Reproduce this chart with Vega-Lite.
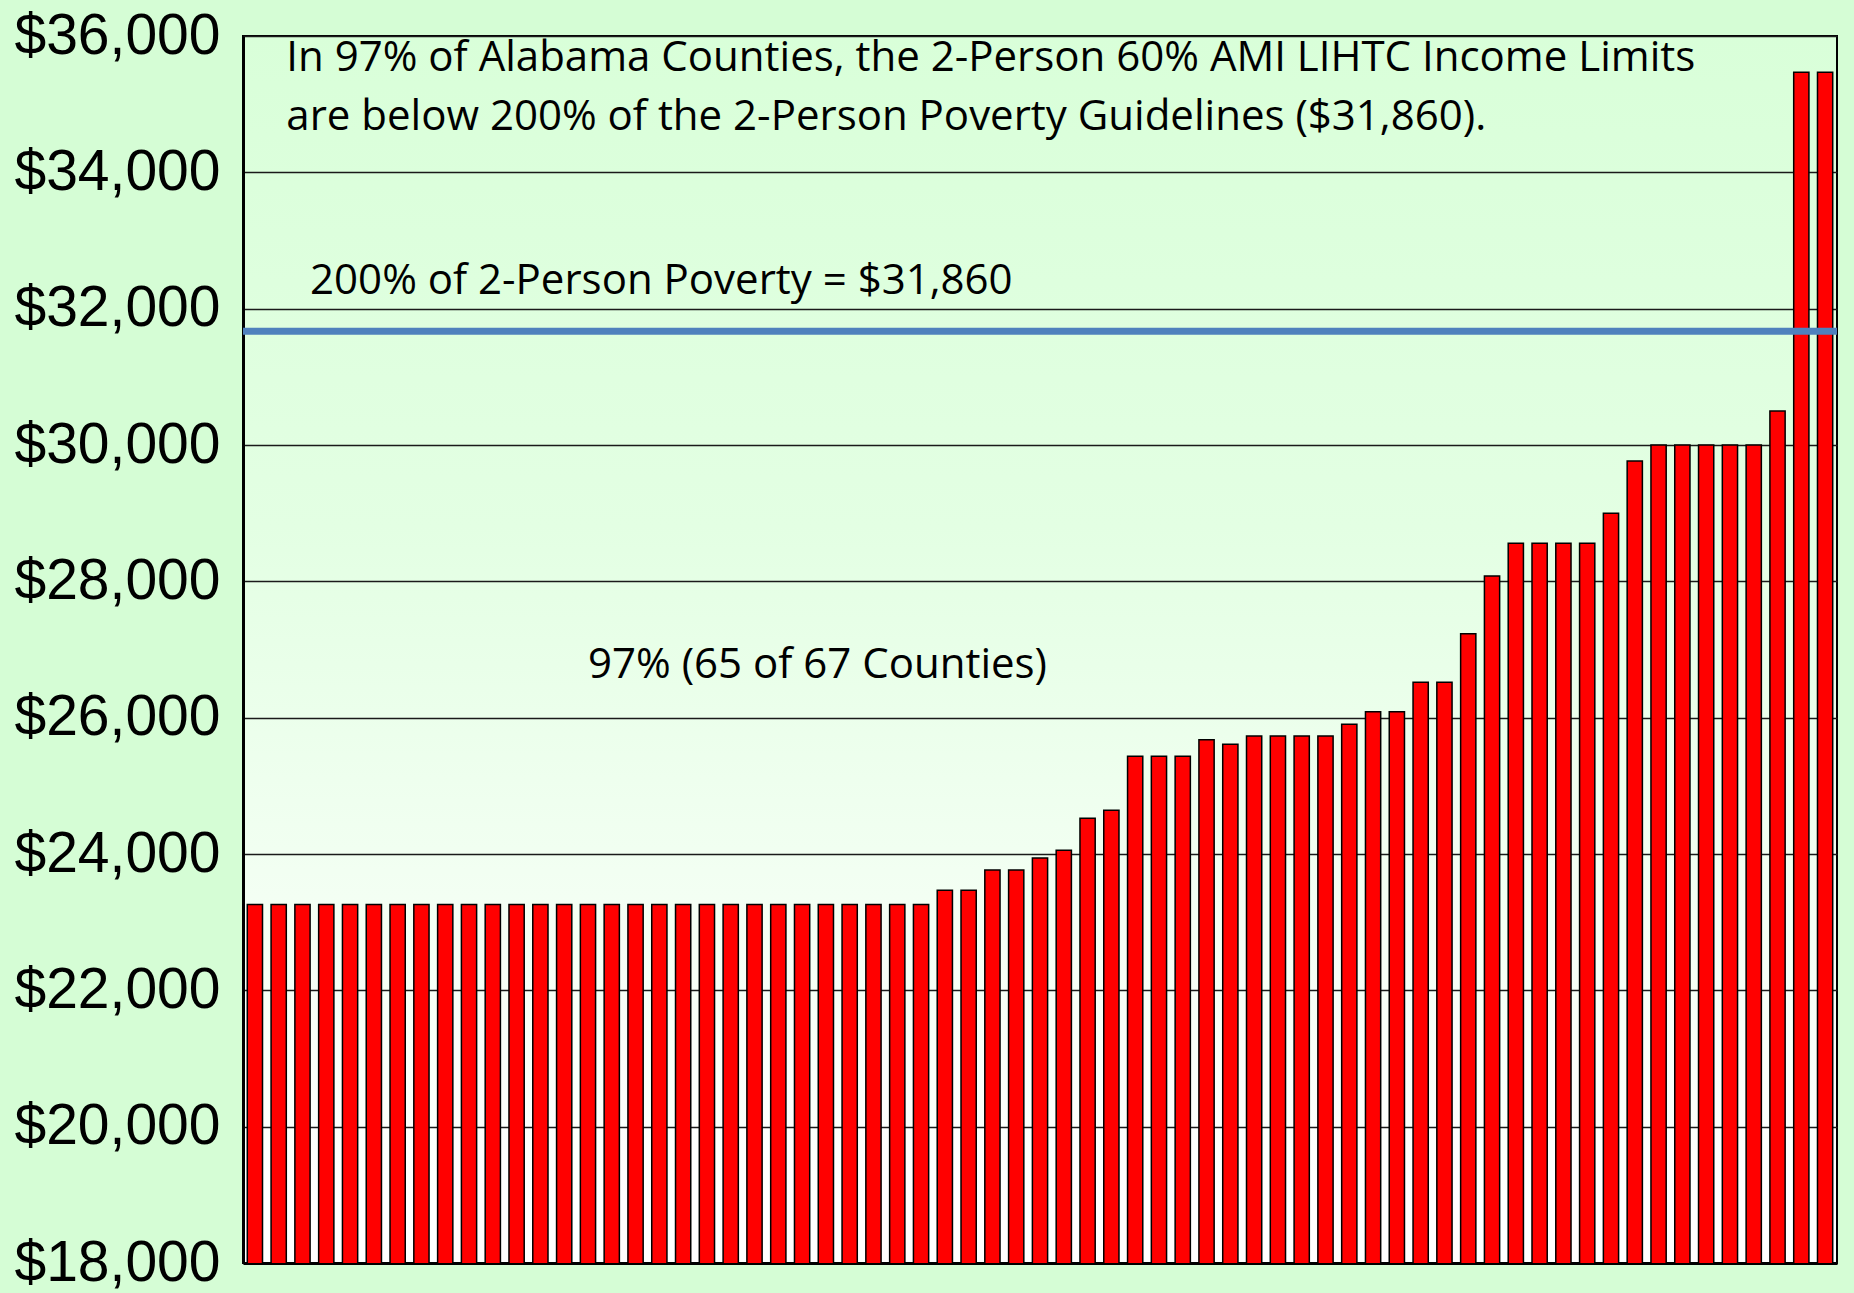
{
  "$schema": "https://vega.github.io/schema/vega-lite/v6.json",
  "autosize": {"type": "none"},
  "padding": {"left": 243, "top": 36, "right": 17, "bottom": 30},
  "width": 1594,
  "height": 1227,
  "background": "#d5fdd5",
  "config": {
    "view": {
      "fill": {"gradient": "linear", "x1": 0, "y1": 0, "x2": 0, "y2": 1,
        "stops": [
          {"offset": 0, "color": "#d9ffd9"},
          {"offset": 0.4, "color": "#e3ffe3"},
          {"offset": 0.68, "color": "#f2fff2"},
          {"offset": 0.95, "color": "#ffffff"},
          {"offset": 1, "color": "#ffffff"}
        ]},
      "stroke": "#000000",
      "strokeWidth": 2
    }
  },
  "data": {"values": [
    {"rank": 1, "limit": 23260}, {"rank": 2, "limit": 23260}, {"rank": 3, "limit": 23260}, {"rank": 4, "limit": 23260},
    {"rank": 5, "limit": 23260}, {"rank": 6, "limit": 23260}, {"rank": 7, "limit": 23260}, {"rank": 8, "limit": 23260},
    {"rank": 9, "limit": 23260}, {"rank": 10, "limit": 23260}, {"rank": 11, "limit": 23260}, {"rank": 12, "limit": 23260},
    {"rank": 13, "limit": 23260}, {"rank": 14, "limit": 23260}, {"rank": 15, "limit": 23260}, {"rank": 16, "limit": 23260},
    {"rank": 17, "limit": 23260}, {"rank": 18, "limit": 23260}, {"rank": 19, "limit": 23260}, {"rank": 20, "limit": 23260},
    {"rank": 21, "limit": 23260}, {"rank": 22, "limit": 23260}, {"rank": 23, "limit": 23260}, {"rank": 24, "limit": 23260},
    {"rank": 25, "limit": 23260}, {"rank": 26, "limit": 23260}, {"rank": 27, "limit": 23260}, {"rank": 28, "limit": 23260},
    {"rank": 29, "limit": 23260}, {"rank": 30, "limit": 23470}, {"rank": 31, "limit": 23470}, {"rank": 32, "limit": 23765},
    {"rank": 33, "limit": 23765}, {"rank": 34, "limit": 23940}, {"rank": 35, "limit": 24055}, {"rank": 36, "limit": 24525},
    {"rank": 37, "limit": 24640}, {"rank": 38, "limit": 25435}, {"rank": 39, "limit": 25435}, {"rank": 40, "limit": 25435},
    {"rank": 41, "limit": 25675}, {"rank": 42, "limit": 25610}, {"rank": 43, "limit": 25730}, {"rank": 44, "limit": 25730},
    {"rank": 45, "limit": 25730}, {"rank": 46, "limit": 25730}, {"rank": 47, "limit": 25905}, {"rank": 48, "limit": 26085},
    {"rank": 49, "limit": 26085}, {"rank": 50, "limit": 26520}, {"rank": 51, "limit": 26520}, {"rank": 52, "limit": 27230},
    {"rank": 53, "limit": 28080}, {"rank": 54, "limit": 28560}, {"rank": 55, "limit": 28560}, {"rank": 56, "limit": 28560},
    {"rank": 57, "limit": 28560}, {"rank": 58, "limit": 29000}, {"rank": 59, "limit": 29765}, {"rank": 60, "limit": 30000},
    {"rank": 61, "limit": 30000}, {"rank": 62, "limit": 30000}, {"rank": 63, "limit": 30000}, {"rank": 64, "limit": 30000},
    {"rank": 65, "limit": 30500}, {"rank": 66, "limit": 35470}, {"rank": 67, "limit": 35470}
  ]},
  "layer": [
    {
      "mark": {"type": "bar", "color": "#ff0000", "stroke": "#000000", "strokeWidth": 1.5, "clip": true},
      "encoding": {
        "x": {"field": "rank", "type": "ordinal",
          "scale": {"paddingInner": 0.36, "paddingOuter": 0.18},
          "axis": {"labels": false, "ticks": false, "title": null, "domainColor": "#000000", "domainWidth": 3}},
        "y": {"field": "limit", "type": "quantitative",
          "scale": {"domain": [18000, 36000], "zero": false, "nice": false},
          "axis": {"values": [18000, 20000, 22000, 24000, 26000, 28000, 30000, 32000, 34000, 36000],
            "format": "$,.0f", "title": null, "ticks": false, "labelPadding": 23,
            "labelFont": "Liberation Sans", "labelFontSize": 57, "labelColor": "#000000",
            "labelOverlap": false, "labelLimit": 0,
            "grid": true, "gridColor": "#1a1a1a", "gridWidth": 1.6, "gridOpacity": 1,
            "domainColor": "#000000", "domainWidth": 3}}
      }
    },
    {
      "data": {"values": [{"threshold": 31670}]},
      "mark": {"type": "rule", "color": "#4f81bd", "strokeWidth": 7},
      "encoding": {"y": {"field": "threshold", "type": "quantitative"}}
    },
    {
      "data": {"values": [
        {"rank": 2, "limit": 35487, "label": "In 97% of Alabama Counties, the 2-Person 60% AMI LIHTC Income Limits\nare below 200% of the 2-Person Poverty Guidelines ($31,860)."},
        {"rank": 3, "limit": 32215, "label": "200% of 2-Person Poverty = $31,860"}
      ]},
      "mark": {"type": "text", "align": "left", "baseline": "alphabetic", "font": "Open Sans", "fontSize": 42, "color": "#000000", "lineBreak": "\n", "lineHeight": 59},
      "encoding": {
        "x": {"field": "rank", "type": "ordinal", "bandPosition": 1},
        "y": {"field": "limit", "type": "quantitative"},
        "text": {"field": "label"}
      }
    },
    {
      "data": {"values": [{"rank": 15, "limit": 26589, "label": "97% (65 of 67 Counties)"}]},
      "mark": {"type": "text", "align": "left", "baseline": "alphabetic", "font": "Open Sans", "fontSize": 42, "color": "#000000"},
      "encoding": {
        "x": {"field": "rank", "type": "ordinal", "bandPosition": 0.5},
        "y": {"field": "limit", "type": "quantitative"},
        "text": {"field": "label"}
      }
    }
  ]
}
